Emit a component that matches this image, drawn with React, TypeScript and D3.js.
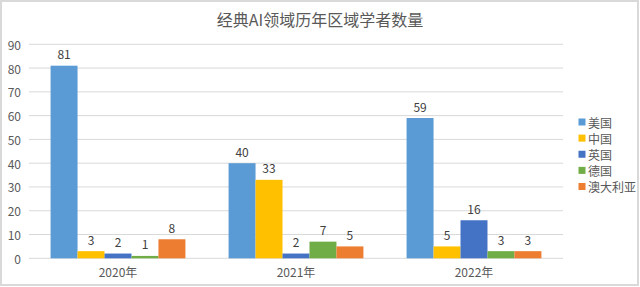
import React from "react";
import * as d3 from "d3";

const categories = ["2020年", "2021年", "2022年"];
const seriesNames = ["美国", "中国", "英国", "德国", "澳大利亚"];
const usValues = [81, 40, 59];
const cnValues = [3, 33, 5];
const ukValues = [2, 2, 16];
const deValues = [1, 7, 3];
const auValues = [8, 5, 3];
const yTicks = [0, 10, 20, 30, 40, 50, 60, 70, 80, 90];
const colors = ["#5B9BD5", "#FFC000", "#4472C4", "#70AD47", "#ED7D31"];
const title = "经典AI领域历年区域学者数量";

const seriesValues = [usValues, cnValues, ukValues, deValues, auValues];

export default function App() {
  const W = 640, H = 287;
  const left = 29, right = 563, top = 44.3, bottom = 258.3;
  const font = "'Noto Sans CJK SC', 'Noto Sans', sans-serif";

  const x0 = d3.scaleBand().domain(categories).range([left, right]).paddingInner(0).paddingOuter(0);
  const x1 = d3.scaleBand().domain(seriesNames).range([0, x0.bandwidth()]).paddingInner(0).paddingOuter(0.8);
  const y = d3.scaleLinear().domain([0, 90]).range([bottom, top]);

  const legendY = d3.scalePoint().domain(seriesNames).range([122, 186.5]);

  return (
    <div style={{ position: "absolute", left: 0, top: 0 }}>
      <svg width={W} height={H} style={{ display: "block", fontFamily: font }}>
        <rect x={0} y={0} width={W} height={H} fill="#ffffff" />
        <rect x={1} y={1} width={W - 3} height={H - 3} fill="none" stroke="#d9d9d9" strokeWidth={2} />
        <text x={320} y={19} textAnchor="middle" dominantBaseline="central" fontSize={16} fill="#595959">{title}</text>
        {yTicks.map((t) => (
          <g key={t}>
            <line x1={left} x2={right} y1={y(t)} y2={y(t)} stroke="#d9d9d9" strokeWidth={1} />
            <text x={21} y={y(t)} textAnchor="end" dominantBaseline="central" fontSize={12} fill="#595959">{t}</text>
          </g>
        ))}
        {categories.map((c, ci) => (
          <g key={c}>
            {seriesNames.map((s, si) => {
              const v = seriesValues[si][ci];
              const bx = (x0(c) as number) + (x1(s) as number);
              const bw = x1.bandwidth();
              return (
                <g key={s}>
                  <rect x={bx} y={y(v)} width={bw} height={y(0) - y(v)} fill={colors[si]} />
                  <text x={bx + bw / 2} y={y(v) - 12} textAnchor="middle" dominantBaseline="central" fontSize={12} fill="#404040">{v}</text>
                </g>
              );
            })}
            <text x={(x0(c) as number) + x0.bandwidth() / 2} y={271} textAnchor="middle" dominantBaseline="central" fontSize={12} fill="#595959">{c}</text>
          </g>
        ))}
        {seriesNames.map((s, si) => (
          <g key={s}>
            <rect x={578.5} y={(legendY(s) as number) - 3.5} width={7} height={7} fill={colors[si]} />
            <text x={588} y={legendY(s) as number} dominantBaseline="central" fontSize={12} fill="#595959">{s}</text>
          </g>
        ))}
      </svg>
    </div>
  );
}
